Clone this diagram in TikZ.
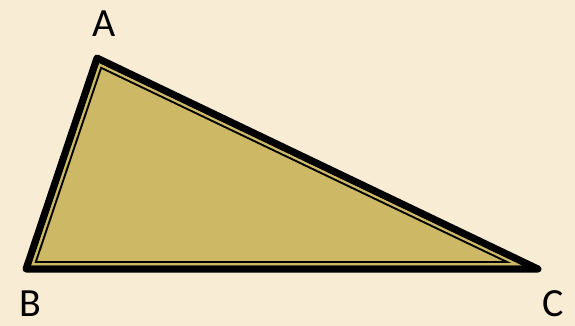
\documentclass[tikz,border=0pt]{standalone}
\usepackage{fontspec}
\setmainfont{Carlito}
\definecolor{bg}{HTML}{F8ECD5}
\definecolor{tri}{HTML}{CDB965}
\begin{document}
\begin{tikzpicture}[x=1pt,y=-1pt,
  lbl/.style={font=\fontsize{40}{42}\selectfont,text=black,inner sep=0pt,anchor=base,text depth=0pt}]
\useasboundingbox[fill=bg] (0,0) rectangle (575,326);
\coordinate (A) at (97,58);
\coordinate (B) at (26,269);
\coordinate (C) at (538,269);
\fill[tri] (A) -- (B) -- (C) -- cycle;
\begin{scope}
  \clip (A) -- (B) -- (C) -- cycle;
  \draw[black,line width=16pt,line join=miter] (A) -- (B) -- (C) -- cycle;
  \draw[tri,line width=12pt,line join=miter] (A) -- (B) -- (C) -- cycle;
  \draw[black,line width=7pt,line join=miter] (A) -- (B) -- (C) -- cycle;
\end{scope}
\draw[black,line width=7pt,line join=round] (A) -- (B) -- (C) -- cycle;
\node[lbl] (la) at (104,37) {A};
\node[lbl] (lb) at (30,316) {B};
\node[lbl] (lc) at (553,316) {C};
\end{tikzpicture}
\end{document}
